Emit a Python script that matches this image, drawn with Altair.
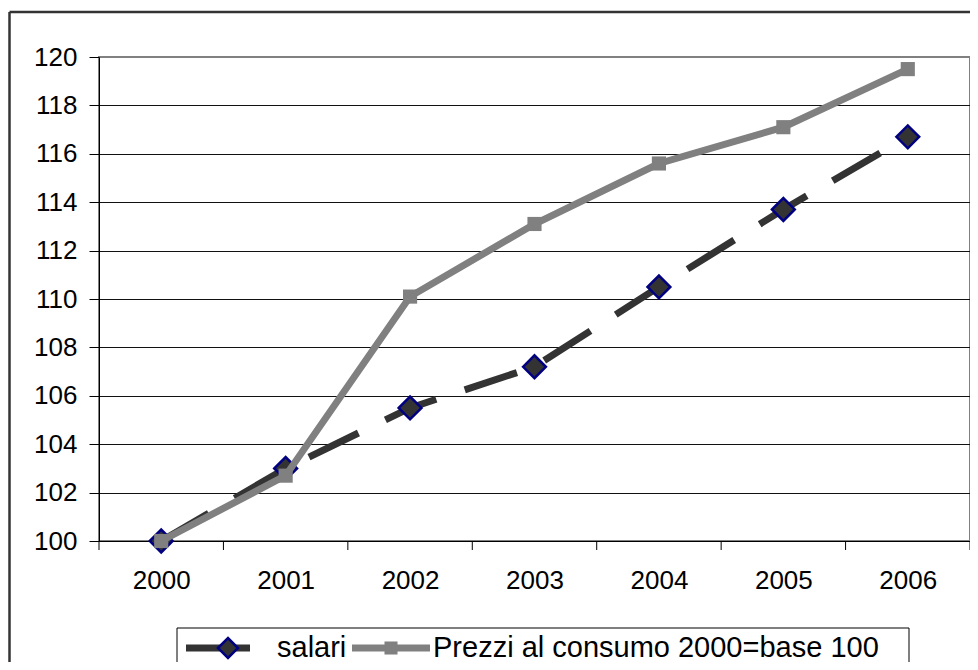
import altair as alt
import pandas as pd

# ---- data ----
years = [2000, 2001, 2002, 2003, 2004, 2005, 2006]
salari = [100.0, 103.0, 105.5, 107.2, 110.5, 113.7, 116.7]
prezzi = [100.0, 102.7, 110.1, 113.1, 115.6, 117.1, 119.5]
series_names = ["salari", "Prezzi al consumo 2000=base 100"]
y_ticks = [100, 102, 104, 106, 108, 110, 112, 114, 116, 118, 120]
x_bounds = [1999.5, 2000.5, 2001.5, 2002.5, 2003.5, 2004.5, 2005.5, 2006.5]

W, H = 871, 484
FONT = "Liberation Sans"
AX_FS = 26
LEG_FS = 29

df_s = pd.DataFrame({"anno": years, "valore": salari})
df_p = pd.DataFrame({"anno": years, "valore": prezzi})
df_b = pd.DataFrame({"anno": x_bounds})
one = pd.DataFrame({"k": [0]})

xscale = alt.Scale(domain=[1999.5, 2006.5], nice=False, zero=False)
yscale = alt.Scale(domain=[100, 120], nice=False, zero=False)

xaxis = alt.Axis(values=years, format="d", ticks=False, tickSize=0, grid=False,
                 domainColor="black", domainWidth=1, labelFont=FONT, labelFontSize=AX_FS,
                 labelColor="black", labelPadding=26, title=None)
yaxis = alt.Axis(values=y_ticks, format="d", grid=True,
                 gridColor=alt.condition("datum.value == 120", alt.value("#808080"), alt.value("#111111")),
                 gridWidth=1, tickSize=10, tickColor="black", domainColor="black",
                 labelFont=FONT, labelFontSize=AX_FS, labelColor="black", labelPadding=12,
                 title=None)

X = alt.X("anno:Q", scale=xscale, axis=xaxis)
Y = alt.Y("valore:Q", scale=yscale, axis=yaxis)

sal_line = alt.Chart(df_s).mark_line(color="#333333", strokeWidth=7, strokeDash=[55, 30]).encode(x=X, y=Y)
sal_pts = alt.Chart(df_s).mark_point(shape="diamond", fill="#333333", stroke="#000080",
                                     strokeWidth=2.5, size=520, opacity=1, fillOpacity=1).encode(x=X, y=Y)
pr_line = alt.Chart(df_p).mark_line(color="#808080", strokeWidth=7).encode(x=X, y=Y)
pr_pts = alt.Chart(df_p).mark_square(color="#808080", size=200, opacity=1).encode(x=X, y=Y)

xticks = alt.Chart(df_b).mark_rule(color="black", strokeWidth=1).encode(
    x=X, y=alt.value(H), y2=alt.value(H + 9))

# outer chart-area border (top and left visible)
border_top = alt.Chart(one).mark_rule(color="#333333", strokeWidth=2.5).encode(
    x=alt.value(-89.5), x2=alt.value(W + 20), y=alt.value(-45))
border_left = alt.Chart(one).mark_rule(color="#333333", strokeWidth=2.5).encode(
    x=alt.value(-89.5), y=alt.value(-45), y2=alt.value(H + 140))

# legend
leg_box = alt.Chart(one).mark_rect(fill="white", stroke="black", strokeWidth=1).encode(
    x=alt.value(78), x2=alt.value(810), y=alt.value(571), y2=alt.value(606))
LY = 591
leg_l1 = alt.Chart(one).mark_rule(color="#333333", strokeWidth=7).encode(
    x=alt.value(87), x2=alt.value(151), y=alt.value(LY))
leg_p1 = alt.Chart(one).mark_point(shape="diamond", fill="#333333", stroke="#000080",
                                   strokeWidth=2.5, size=400, opacity=1, fillOpacity=1).encode(
    x=alt.value(129), y=alt.value(LY))
leg_t1 = alt.Chart(pd.DataFrame({"name": [series_names[0]]})).mark_text(
    align="left", baseline="middle", font=FONT, fontSize=LEG_FS, color="black").encode(
    x=alt.value(178), y=alt.value(LY), text="name:N")
leg_l2 = alt.Chart(one).mark_rule(color="#808080", strokeWidth=7).encode(
    x=alt.value(253), x2=alt.value(331), y=alt.value(LY))
leg_p2 = alt.Chart(one).mark_square(color="#808080", size=170, opacity=1).encode(
    x=alt.value(292), y=alt.value(LY))
leg_t2 = alt.Chart(pd.DataFrame({"name": [series_names[1]]})).mark_text(
    align="left", baseline="middle", font=FONT, fontSize=LEG_FS, color="black").encode(
    x=alt.value(334), y=alt.value(LY), text="name:N")

chart = alt.layer(
    border_top, border_left,
    xticks, sal_line, sal_pts, pr_line, pr_pts,
    leg_box, leg_l1, leg_p1, leg_t1, leg_l2, leg_p2, leg_t2,
).properties(
    width=W, height=H,
    autosize=alt.AutoSizeParams(type="none"),
    padding={"left": 91, "top": 49, "right": 0, "bottom": 121},
    background="white",
).configure_view(stroke="#808080", strokeWidth=2)

chart.save("out.html", embed_options={"renderer": "svg", "actions": False})
